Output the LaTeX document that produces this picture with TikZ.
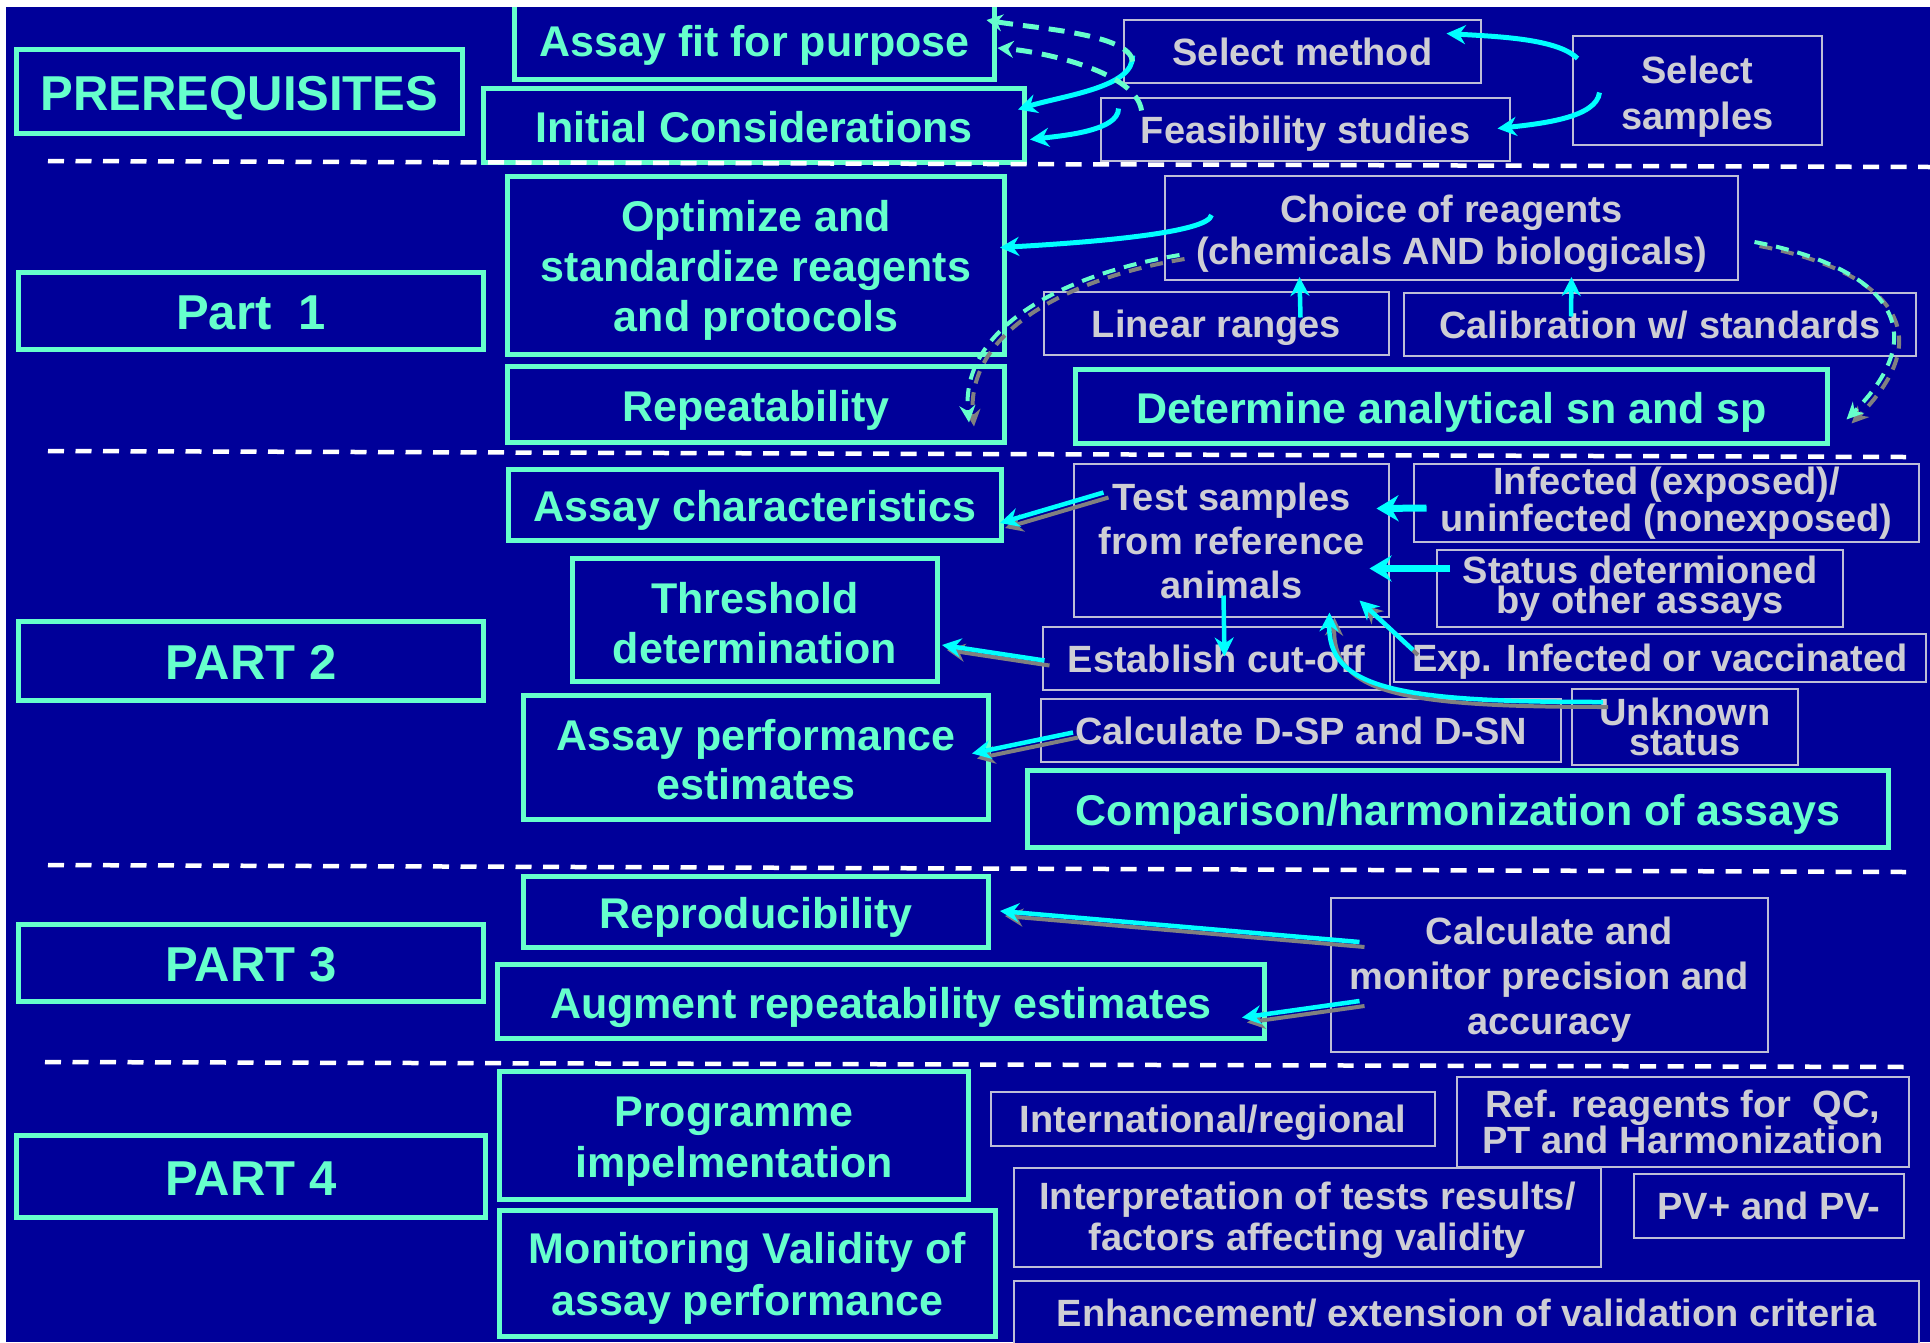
\documentclass[tikz,border=0pt]{standalone}
\usepackage{fontspec}
\setmainfont{Liberation Sans}
\usetikzlibrary{arrows.meta,calc}
\definecolor{bgblue}{RGB}{0,0,153}
\definecolor{aqua}{RGB}{102,255,204}
\definecolor{greytxt}{RGB}{206,206,212}
\definecolor{greyline}{RGB}{190,190,215}
\definecolor{cyanar}{RGB}{0,255,255}
\definecolor{shadcol}{RGB}{128,128,128}
\begin{document}
\begin{tikzpicture}[x=1pt,y=-1pt,
  gbox/.style={draw=aqua, line width=5pt, fill=bgblue, text=aqua,
    font=\bfseries\fontsize{43}{50}\selectfont, align=center, inner sep=0pt},
  pbox/.style={gbox, font=\bfseries\fontsize{49}{56}\selectfont, text height=37pt, text depth=0pt},
  tbox/.style={draw=greyline, line width=2pt, fill=bgblue, text=greytxt,
    font=\bfseries\fontsize{38}{44}\selectfont, align=center, inner sep=0pt},
  gtext/.style={text=aqua, align=center, inner sep=0pt},
  ttext/.style={text=greytxt, align=center, inner sep=0pt},
  gone/.style={text height=33pt, text depth=0pt},
  tone/.style={text height=27pt, text depth=0pt},
  sepline/.style={white, line width=4.5pt, dash pattern=on 16pt off 11.5pt},
  ccurve/.style={cyanar, line width=5pt, -{Stealth[length=19pt,width=19pt]}},
  carrow/.style={cyanar, line width=4.5pt, -{Stealth[length=19pt,width=19pt]}},
  tharrow/.style={cyanar, line width=7pt, -{Stealth[length=22pt,width=26pt]}},
  sharrow/.style={shadcol, line width=4pt, -{Stealth[length=18pt,width=18pt]},
    transform canvas={shift={(5pt,-5pt)}}},
  dcurve/.style={aqua, line width=5pt, dash pattern=on 16pt off 10pt,
    -{Stealth[length=16pt,width=17pt]}},
  dshadow/.style={shadcol, line width=4pt, dash pattern=on 13pt off 9pt,
    -{Stealth[length=17pt,width=16pt]}, transform canvas={shift={(5pt,-4pt)}}},
  dgreen/.style={aqua, line width=4pt, dash pattern=on 13pt off 9pt,
    -{Stealth[length=17pt,width=16pt]}}
]
\useasboundingbox (0,0) rectangle (1930,1342);
\fill[bgblue] (0,0) rectangle (1930,1342);

% ---------- green boxes ----------
\node[pbox, minimum width=446pt, minimum height=84pt] (pre) at (239.5,91.5) {PREREQUISITES};
\node[gbox, text height=39pt, text depth=0pt, minimum width=480pt, minimum height=84pt] (afp) at (754.5,37) {Assay fit for purpose};
\node[gbox, gone, minimum width=541pt, minimum height=74pt] (ic) at (754,125.5) {Initial Considerations};
\node[gbox, minimum width=497pt, minimum height=178pt] (opt) at (756,265.5) {};
\node[gtext, font=\bfseries\fontsize{43}{50}\selectfont] (optT) at ($(opt)+(0,5)$) {Optimize and\\standardize reagents\\and protocols};
\node[gbox, gone, minimum width=497pt, minimum height=76pt] (rep) at (756,404.5) {Repeatability};
\node[pbox, minimum width=465pt, minimum height=77pt] (p1) at (251,311) {Part\ \ 1};
\node[gbox, gone, minimum width=752pt, minimum height=74pt] (det) at (1451.5,406.5) {Determine analytical sn and sp};
\node[gbox, gone, minimum width=493pt, minimum height=71pt] (ac) at (755,505) {Assay characteristics};
\node[gbox, minimum width=365pt, minimum height=123pt] (thr) at (755,620) {};
\node[gtext, font=\bfseries\fontsize{43}{50}\selectfont] (thrT) at ($(thr)+(0,3)$) {Threshold\\determination};
\node[pbox, minimum width=465pt, minimum height=79pt] (p2) at (251,661) {PART 2};
\node[gbox, minimum width=465pt, minimum height=124pt] (ape) at (756,757.5) {};
\node[gtext, font=\bfseries\fontsize{43}{49}\selectfont] (apeT) at ($(ape)+(0,2)$) {Assay performance\\estimates};
\node[gbox, gone, minimum width=861pt, minimum height=77pt] (cmp) at (1458,809) {Comparison/harmonization of assays};
\node[gbox, gone, minimum width=465pt, minimum height=71pt] (repro) at (756,912) {Reproducibility};
\node[pbox, minimum width=465pt, minimum height=77pt] (p3) at (251,963) {PART 3};
\node[gbox, gone, minimum width=767pt, minimum height=74pt] (aug) at (881,1001.5) {Augment repeatability estimates};
\node[pbox, minimum width=469pt, minimum height=82pt] (p4) at (251,1176.5) {PART 4};
\node[gbox, minimum width=469pt, minimum height=128pt] (prog) at (734,1135.5) {};
\node[gtext, font=\bfseries\fontsize{43}{51}\selectfont] (progT) at ($(prog)+(0,6)$) {Programme\\impelmentation};
\node[gbox, minimum width=496pt, minimum height=126pt] (mon) at (747.5,1273.5) {};
\node[gtext, font=\bfseries\fontsize{43}{52}\selectfont] (monT) at ($(mon)+(0,5)$) {Monitoring Validity of\\assay performance};

% ---------- grey boxes ----------
\node[tbox, tone, minimum width=357pt, minimum height=63pt] (sm) at (1302.5,51.5) {Select method};
\node[tbox, tone, minimum width=409pt, minimum height=63pt] (fs) at (1305.5,129.5) {Feasibility studies};
\node[tbox, minimum width=249pt, minimum height=109pt] (ss) at (1697.5,90.5) {};
\node[ttext, font=\bfseries\fontsize{38}{46}\selectfont] (ssT) at ($(ss)+(0,6)$) {Select\\samples};
\node[tbox, minimum width=573pt, minimum height=104pt] (cr) at (1451.5,228) {};
\node[ttext, font=\bfseries\fontsize{38}{42}\selectfont] (crT) at ($(cr)+(0,6)$) {Choice of reagents\\(chemicals AND biologicals)};
\node[tbox, tone, minimum width=345pt, minimum height=63pt] (lr) at (1216.5,323.5) {Linear ranges};
\node[tbox, tone, minimum width=512pt, minimum height=63pt] (cal) at (1660,324.5) {Calibration w/ standards};
\node[tbox, minimum width=315pt, minimum height=153pt, font=\bfseries\fontsize{38}{44}\selectfont] (ts) at (1231.5,540.5) {Test samples\\from reference\\animals};
\node[tbox, minimum width=505pt, minimum height=78pt, font=\bfseries\fontsize{38}{30}\selectfont] (inf) at (1666.5,503) {Infected (exposed)/\\uninfected (nonexposed)};
\node[tbox, minimum width=406pt, minimum height=77pt, font=\bfseries\fontsize{38}{30}\selectfont] (st) at (1640,588.5) {Status determioned\\by other assays};
\node[tbox, tone, minimum width=347pt, minimum height=63pt] (ec) at (1216.5,658.5) {Establish cut-off};
\node[tbox, tone, minimum width=532pt, minimum height=48pt] (exp) at (1660,658) {Exp. Infected or vaccinated};
\node[tbox, tone, minimum width=520pt, minimum height=63pt] (cd) at (1301,730.5) {Calculate D-SP and D-SN};
\node[tbox, minimum width=226pt, minimum height=76pt, font=\bfseries\fontsize{38}{30}\selectfont] (us) at (1685,727) {Unknown\\status};
\node[tbox, minimum width=437pt, minimum height=154pt] (cm) at (1549.5,975) {};
\node[ttext, font=\bfseries\fontsize{38}{45}\selectfont] (cmT) at ($(cm)+(0,5)$) {Calculate and\\monitor precision and\\accuracy};
\node[tbox, tone, minimum width=444pt, minimum height=54pt] (ir) at (1213,1119) {International/regional};
\node[tbox, minimum width=452pt, minimum height=90pt, font=\bfseries\fontsize{38}{35}\selectfont] (rr) at (1683,1122) {Ref. reagents for\ \ QC,\\PT and Harmonization};
\node[tbox, minimum width=587pt, minimum height=99pt] (it) at (1307.5,1217.5) {};
\node[ttext, font=\bfseries\fontsize{38}{41}\selectfont] (itT) at ($(it)+(0,3)$) {Interpretation of tests results/\\factors affecting validity};
\node[tbox, tone, minimum width=270pt, minimum height=64pt] (pv) at (1769,1206) {PV+ and PV-};
\node[tbox, tone, minimum width=905pt, minimum height=64pt] (en) at (1466.5,1313) {Enhancement/ extension of validation criteria};

% ---------- separators ----------
\draw[sepline] (48,161) -- (1930,167);
\draw[sepline] (48,451) -- (1906,457);
\draw[sepline] (48,865) -- (1906,872);
\draw[sepline] (45,1062) -- (1909,1067);

% ---------- prerequisites arrows ----------
\draw[ccurve] ($(ss)+(-120,-32)$) .. controls +(-20,-20) and +(50,3) .. ($(sm)+(144,-18)$);
\draw[ccurve] ($(ss)+(-98,2)$) .. controls +(-3,25) and +(45,-5) .. ($(fs)+(192,-1)$);
\draw[ccurve] ($(sm)+(-170,4)$) .. controls +(2,32) and +(45,-14) .. ($(ic)+(264,-16)$);
\draw[ccurve] ($(fs)+(-187,-21)$) .. controls +(0,22) and +(35,-4) .. ($(ic)+(276,14)$);
\draw[dcurve] ($(sm)+(-170,10)$) .. controls +(-2,-28) and +(45,8) .. ($(afp)+(232,-17)$);
\draw[dcurve] ($(fs)+(-164,-19)$) .. controls +(-5,-38) and +(48,4) .. ($(afp)+(243,11)$);

% ---------- part 1 arrows ----------
\draw[ccurve] ($(cr)+(-240,-13)$) .. controls +(-3,18) and +(90,-5) .. ($(opt)+(244,-18)$);
\draw[dshadow] ($(cr)+(-272,27)$) .. controls +(-120,20) and +(-9,-93) .. ($(rep)+(213,18)$);
\draw[dgreen] ($(cr)+(-272,27)$) .. controls +(-120,20) and +(-9,-93) .. ($(rep)+(213,18)$);
\draw[dshadow] ($(cr)+(303,14)$) .. controls +(106,20) and +(102,-103) .. ($(det)+(395,13)$);
\draw[dgreen] ($(cr)+(303,14)$) .. controls +(106,20) and +(102,-103) .. ($(det)+(395,13)$);
\draw[carrow] ($(lr)+(84,-6)$) -- ($(cr)+(-152,49)$);
\draw[carrow] ($(cal)+(-89,-8)$) -- ($(cr)+(120,49)$);

% ---------- part 2 arrows ----------
\draw[sharrow] ($(ts)+(-128,-48)$) -- ($(ac)+(245,18)$);
\draw[carrow] ($(ts)+(-128,-48)$) -- ($(ac)+(245,18)$);
\draw[tharrow] ($(inf)+(-240,5)$) -- ($(ts)+(145,-32)$);
\draw[tharrow] ($(st)+(-190,-20)$) -- ($(ts)+(138,28)$);
\draw[sharrow] ($(exp)+(-247,-8)$) -- ($(ts)+(128,60)$);
\draw[carrow] ($(exp)+(-247,-8)$) -- ($(ts)+(128,60)$);
\draw[carrow] ($(ts)+(-8,55)$) -- ($(ec)+(8,-2)$);
\draw[sharrow] ($(us)+(-82,-25)$) .. controls +(-203,0) and +(-2,77) .. ($(ts)+(98,72)$);
\draw[carrow] ($(us)+(-82,-25)$) .. controls +(-203,0) and +(-2,77) .. ($(ts)+(98,72)$);
\draw[sharrow] ($(ec)+(-172,2)$) -- ($(thr)+(187,25)$);
\draw[carrow] ($(ec)+(-172,2)$) -- ($(thr)+(187,25)$);
\draw[sharrow] ($(cd)+(-228,2)$) -- ($(ape)+(216,-4)$);
\draw[carrow] ($(cd)+(-228,2)$) -- ($(ape)+(216,-4)$);

% ---------- part 3 arrows ----------
\draw[sharrow] ($(cm)+(-190,-33)$) -- ($(repro)+(244,-1)$);
\draw[carrow] ($(cm)+(-190,-33)$) -- ($(repro)+(244,-1)$);
\draw[sharrow] ($(cm)+(-190,26)$) -- ($(aug)+(361,16)$);
\draw[carrow] ($(cm)+(-190,26)$) -- ($(aug)+(361,16)$);

% ---------- white margins ----------
\fill[white] (0,0) rectangle (1930,7);
\fill[white] (0,0) rectangle (6,1342);
\end{tikzpicture}
\end{document}
